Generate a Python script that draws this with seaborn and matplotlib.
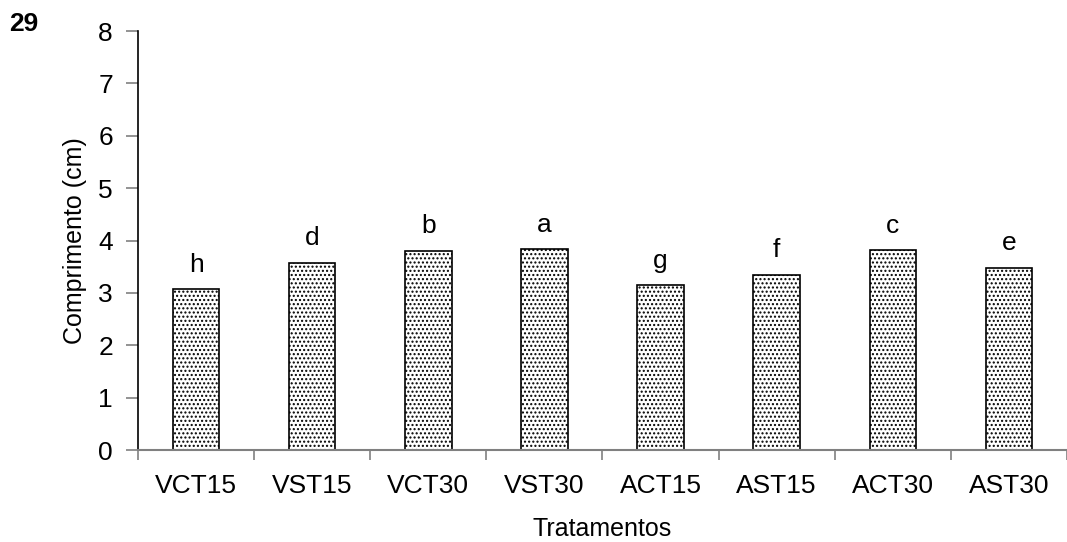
import pandas as pd
import matplotlib.pyplot as plt
import numpy as np
import seaborn as sns

# data
tratamentos = ['VCT15', 'VST15', 'VCT30', 'VST30', 'ACT15', 'AST15', 'ACT30', 'AST30']
comprimento = [3.07, 3.58, 3.80, 3.83, 3.15, 3.35, 3.81, 3.48]
letras = ['h', 'd', 'b', 'a', 'g', 'f', 'c', 'e']

df = pd.DataFrame({'Tratamentos': tratamentos, 'Comprimento': comprimento})

sns.set_style("white")
plt.rcParams['font.family'] = ['Liberation Sans', 'DejaVu Sans']
plt.rcParams['hatch.linewidth'] = 1.0
plt.rcParams['text.color'] = 'black'
plt.rcParams['axes.labelcolor'] = 'black'
plt.rcParams['xtick.labelcolor'] = 'black'
plt.rcParams['ytick.labelcolor'] = 'black'

fig = plt.figure(figsize=(10.67, 5.42), dpi=100)
ax = fig.add_axes([0.1293, 0.1697, 0.8707, 0.7731])

sns.barplot(data=df, x='Tratamentos', y='Comprimento', ax=ax, width=0.4,
            color='white', edgecolor='black', linewidth=1.2, saturation=1)

# dotted fill
for bar in ax.patches:
    bar.set_hatch('....')
    bar.set_facecolor('white')

# letters above bars
for bar, letra in zip(ax.patches, letras):
    ax.annotate(letra, (bar.get_x() + bar.get_width() / 2, bar.get_height()),
                xytext=(0, 9), textcoords='offset points',
                ha='center', va='bottom', fontsize=19, color='black')

ax.set_ylim(0, 8)
ax.set_xlim(-0.5, 7.5)
ax.set_yticks(range(0, 9))

# ticks between categories on x
ax.set_xticks(np.arange(-0.5, 8, 1), minor=True)
ax.tick_params(axis='x', which='major', length=0, pad=17, labelsize=19)
ax.tick_params(axis='x', which='minor', length=7, width=1.2, color='#808080', direction='out', bottom=True)
ax.tick_params(axis='y', length=9, width=1.2, color='#808080', direction='out', pad=9, labelsize=19, left=True)

ax.set_xlabel('Tratamentos', fontsize=18, labelpad=14)
ax.set_ylabel('Comprimento (cm)', fontsize=18, labelpad=8)

sns.despine(ax=ax, top=True, right=True)
ax.spines['left'].set_color('black')
ax.spines['left'].set_linewidth(1.2)
ax.spines['bottom'].set_color('#808080')
ax.spines['bottom'].set_linewidth(1.5)

fig.text(0.009, 0.977, '29', fontsize=19, fontweight='bold', ha='left', va='top')

fig.savefig('out.png', dpi=100)
